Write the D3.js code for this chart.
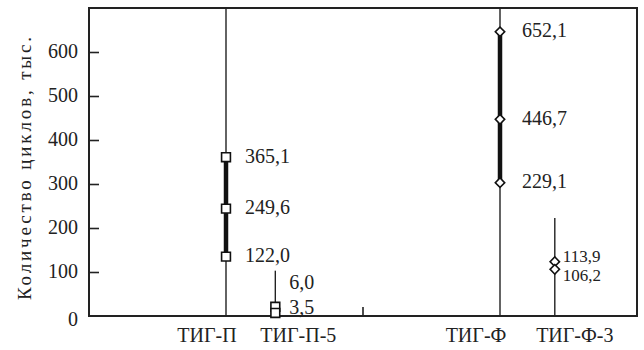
<!DOCTYPE html>
<html>
<head>
<meta charset="utf-8">
<script src="https://cdn.jsdelivr.net/npm/d3@7"></script>
<style>
  body { margin: 0; background: #fff; }
</style>
</head>
<body>
<svg id="chart" width="644" height="350" font-family="'Liberation Serif', 'DejaVu Serif', serif" fill="#222"></svg>
<script>
// categories along the bottom and where they sit on the (unlabelled) x axis
const categories = ["ТИГ-П", "ТИГ-П-5", "ТИГ-Ф", "ТИГ-Ф-3"];
const catPos = [2.5, 3.4, 7.5, 8.5];
const midTick = [5];

// how high each vertical line reaches
const lineTop = [700, 103, 700, 223];

// marker positions as drawn, and the numbers printed beside them
const markerVals = [[361, 244, 135], [21, 7], [646, 447, 303], [123.5, 106]];
const markerText = [["365,1", "249,6", "122,0"], ["6,0", "3,5"], ["652,1", "446,7", "229,1"], ["113,9", "106,2"]];
const textAt = [[361, 244, 135], [73, 18], [646, 447, 303], [135, 90]];
const shapes = ["square", "square", "diamond", "diamond"];
const thickSpan = [true, false, true, false];

const yTicks = [0, 100, 200, 300, 400, 500, 600];
const yTitle = "Количество циклов, тыс.";

const svg = d3.select("#chart");
const mLeft = 89, mRight = 637, mTop = 8, mBottom = 316;

const x = d3.scaleLinear().domain([0, 10]).range([mLeft, mRight]);
const y = d3.scaleLinear().domain([0, 700]).range([mBottom, mTop]);

// frame
svg.append("rect")
    .attr("x", mLeft).attr("y", mTop)
    .attr("width", mRight - mLeft).attr("height", mBottom - mTop)
    .attr("fill", "none").attr("stroke", "#222").attr("stroke-width", 2);

// y axis: inward ticks
const yAxis = d3.axisRight(y).tickValues(yTicks.filter(d => d > 0)).tickSize(10).tickFormat("");
const ga = svg.append("g").attr("transform", `translate(${mLeft},0)`).call(yAxis);
ga.select(".domain").remove();
ga.selectAll(".tick line").attr("stroke", "#222").attr("stroke-width", 1.6);

svg.selectAll(".ylab")
    .data(yTicks)
    .enter().append("text")
    .attr("class", "ylab")
    .attr("x", 78)
    .attr("y", d => y(d) + (d === 0 ? 5 : 1))
    .attr("text-anchor", "end")
    .attr("dominant-baseline", "middle")
    .attr("font-size", 20)
    .text(d => d);

svg.append("text")
    .attr("transform", `translate(27,${(37 + 300) / 2}) rotate(-90)`)
    .attr("text-anchor", "middle")
    .attr("dominant-baseline", "middle")
    .attr("textLength", 263)
    .attr("font-size", 19)
    .text(yTitle);

// small tick on the bottom axis between the groups
svg.selectAll(".midtick")
    .data(midTick)
    .enter().append("line")
    .attr("x1", d => x(d)).attr("x2", d => x(d))
    .attr("y1", mBottom).attr("y2", mBottom - 9)
    .attr("stroke", "#222").attr("stroke-width", 1.6);

const groups = svg.selectAll(".grp")
    .data(categories.map((c, i) => ({
        name: c, pos: catPos[i], top: lineTop[i], vals: markerVals[i],
        text: markerText[i], textAt: textAt[i], shape: shapes[i], thick: thickSpan[i], i
    })))
    .enter().append("g").attr("class", "grp");

// thin full line
groups.append("line")
    .attr("x1", d => x(d.pos)).attr("x2", d => x(d.pos))
    .attr("y1", mBottom).attr("y2", d => y(d.top))
    .attr("stroke", "#222").attr("stroke-width", 1.4);

// thick span between the extreme markers
groups.filter(d => d.thick).append("line")
    .attr("x1", d => x(d.pos)).attr("x2", d => x(d.pos))
    .attr("y1", d => y(d3.min(d.vals))).attr("y2", d => y(d3.max(d.vals)))
    .attr("stroke", "#111").attr("stroke-width", 4.5);

const squareSym = d3.symbol().type(d3.symbolSquare).size(78);
const diamondSym = d3.symbol().type(d3.symbolSquare).size(44);

groups.each(function(g) {
    const sel = d3.select(this);
    sel.selectAll(".mk")
        .data(g.vals)
        .enter().append("path")
        .attr("class", "mk")
        .attr("d", g.shape === "square" ? squareSym : diamondSym)
        .attr("transform", v => `translate(${x(g.pos)},${y(v)})` + (g.shape === "diamond" ? " rotate(45)" : ""))
        .attr("fill", "#fff").attr("stroke", "#111").attr("stroke-width", 1.6);

    const dx = [19, 14, 22, 8][g.i];
    sel.selectAll(".vl")
        .data(g.text)
        .enter().append("text")
        .attr("class", "vl")
        .attr("x", x(g.pos) + dx)
        .attr("y", (t, k) => y(g.textAt[k]) + 1)
        .attr("dominant-baseline", "middle")
        .attr("font-size", g.i === 3 ? 17 : 20)
        .text(t => t);
});

// category names under the axis, pushed apart around each pair
svg.selectAll(".cat")
    .data(categories)
    .enter().append("text")
    .attr("class", "cat")
    .attr("x", (d, i) => x(catPos[i]) + [-19, 23, -24, 20][i])
    .attr("y", 337)
    .attr("text-anchor", "middle")
    .attr("dominant-baseline", "middle")
    .attr("font-size", 20)
    .text(d => d);
</script>
</body>
</html>
